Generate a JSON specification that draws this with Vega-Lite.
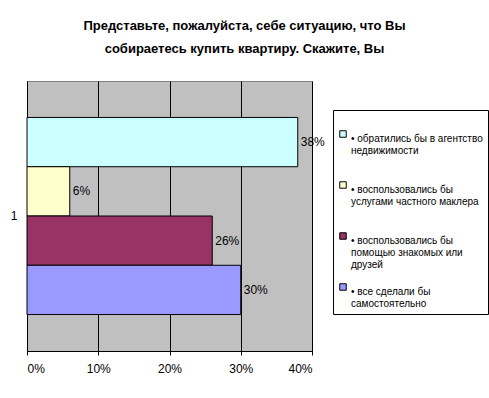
{
  "$schema": "https://vega.github.io/schema/vega-lite/v6.json",
  "width": 285,
  "height": 270,
  "autosize": {"type": "none"},
  "padding": {"left": 27, "top": 81, "right": 177, "bottom": 47},
  "background": "white",
  "title": {
    "text": ["Представьте, пожалуйста, себе ситуацию, что Вы", "собираетесь купить квартиру. Скажите, Вы"],
    "anchor": "middle",
    "frame": "group",
    "dx": 75,
    "offset": 25,
    "font": "Liberation Sans",
    "fontSize": 13,
    "fontWeight": "bold",
    "lineHeight": 23,
    "color": "black"
  },
  "data": {
    "values": [
      {"g": "1", "k": 1, "label": "• обратились бы в агентство\nнедвижимости", "v": 0.38},
      {"g": "1", "k": 2, "label": "• воспользовались бы\nуслугами частного маклера", "v": 0.06},
      {"g": "1", "k": 3, "label": "• воспользовались бы\nпомощью знакомых или\nдрузей", "v": 0.26},
      {"g": "1", "k": 4, "label": "• все сделали бы\nсамостоятельно", "v": 0.30}
    ]
  },
  "config": {
    "view": {"fill": "#C0C0C0", "stroke": "#808080", "strokeWidth": 1},
    "font": "Liberation Sans"
  },
  "encoding": {
    "y": {
      "field": "g",
      "type": "nominal",
      "title": null,
      "scale": {"paddingInner": 0, "paddingOuter": 0.185},
      "axis": {"ticks": false, "domainColor": "black", "labelFontSize": 12, "labelColor": "black", "labelPadding": 10, "labelAngle": 0, "labelFont": "Liberation Sans"}
    },
    "yOffset": {"field": "label", "type": "nominal", "sort": {"field": "k"}, "scale": {"paddingInner": 0, "paddingOuter": 0}},
    "x": {
      "field": "v",
      "type": "quantitative",
      "title": null,
      "scale": {"domain": [0, 0.4]},
      "axis": {
        "values": [0, 0.1, 0.2, 0.3, 0.4],
        "format": ".0%",
        "grid": true,
        "gridColor": "black",
        "gridOpacity": 1,
        "domainColor": "black",
        "tickColor": "black",
        "tickSize": 4,
        "labelFontSize": 12,
        "labelColor": "black",
        "labelPadding": 8,
        "labelFont": "Liberation Sans"
      }
    }
  },
  "layer": [
    {
      "mark": {"type": "bar", "stroke": "black", "strokeWidth": 1},
      "encoding": {
        "color": {
          "field": "label",
          "type": "nominal",
          "sort": {"field": "k"},
          "title": null,
          "scale": {
            "domain": ["• обратились бы в агентство\nнедвижимости", "• воспользовались бы\nуслугами частного маклера", "• воспользовались бы\nпомощью знакомых или\nдрузей", "• все сделали бы\nсамостоятельно"],
            "range": ["#CCFFFF", "#FFFFCC", "#993366", "#9999FF"]
          },
          "legend": {
            "orient": "none",
            "legendX": 306,
            "legendY": 29,
            "title": " ",
            "titleFontSize": 14,
            "titlePadding": 0,
            "labelExpr": "split(datum.label + ((length(split(datum.label, '\\n')) < 3 && indexof(datum.label, 'самостоятельно') < 0) ? '\\n ' : ''), '\\n')",
            "labelFontSize": 10,
            "labelLineHeight": 13,
            "labelFont": "Liberation Sans",
            "labelColor": "black",
            "labelLimit": 200,
            "labelBaseline": "top",
            "labelOffset": 3,
            "symbolType": "square",
            "symbolSize": 42,
            "symbolStrokeColor": "black",
            "symbolStrokeWidth": 1,
            "strokeColor": "black",
            "fillColor": "white",
            "padding": 5,
            "rowPadding": 11,
            "offset": 0
          }
        }
      }
    },
    {
      "mark": {"type": "text", "align": "left", "dx": 3, "fontSize": 12, "color": "black", "font": "Liberation Sans"},
      "encoding": {"text": {"field": "v", "type": "quantitative", "format": ".0%"}}
    }
  ]
}
